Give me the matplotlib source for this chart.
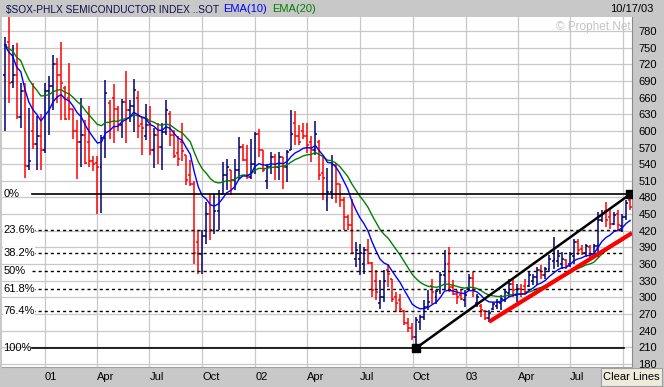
import numpy as np
import pandas as pd
import matplotlib
matplotlib.use('Agg')
import matplotlib.pyplot as plt
import matplotlib.dates as mdates
from matplotlib.collections import LineCollection
from matplotlib.patches import Rectangle

plt.rcParams['font.family'] = ['Liberation Sans', 'DejaVu Sans']
plt.rcParams['font.size'] = 8
plt.rcParams['lines.scale_dashes'] = False

# ---------------- data (weekly bars, week starting Monday) ----------------
first_week = '2000-10-23'
opens = [700, 760, 688, 700, 625, 671, 537, 600, 576, 590, 566, 671, 680, 720, 700, 678, 660, 640, 600, 580,
         592, 580, 545, 542, 535, 588, 650, 660, 640, 610, 652, 638, 645, 660, 612, 590, 610, 566, 592, 571,
         598, 630, 592, 560, 580, 557, 520, 505, 400, 379, 410, 450, 421, 455, 487, 520, 529, 511, 530, 571,
         548, 517, 540, 595, 565, 510, 535, 553, 535, 553, 535, 565, 615, 590, 600, 590, 580, 565, 580, 525,
         475, 490, 538, 505, 475, 445, 430, 370, 370, 360, 385, 362, 330, 290, 301, 350, 334, 300, 295, 275,
         253, 245, 229, 255, 265, 283, 320, 300, 311, 340, 361, 319, 307, 305, 295, 315, 335, 290, 285, 275,
         262, 279, 285, 290, 296, 308, 325, 305, 316, 320, 320, 330, 337, 350, 340, 352, 365, 365, 360, 368,
         360, 375, 400, 388, 380, 390, 378, 393, 440, 455, 445, 432, 450, 428, 445, 475]
highs = [770, 805, 755, 758, 686, 686, 642, 686, 626, 630, 686, 698, 737, 731, 760, 680, 722, 640, 620, 660,
         620, 645, 555, 554, 593, 691, 655, 685, 645, 657, 708, 655, 694, 672, 625, 649, 644, 606, 614, 614,
         656, 635, 602, 590, 614, 557, 548, 509, 421, 421, 472, 487, 487, 493, 544, 550, 529, 550, 589, 577,
         574, 586, 598, 604, 565, 541, 562, 559, 562, 553, 565, 638, 635, 611, 614, 614, 590, 617, 584, 554,
         533, 557, 542, 505, 481, 448, 478, 400, 397, 391, 406, 364, 349, 331, 349, 361, 334, 310, 307, 277,
         262, 253, 265, 268, 295, 313, 334, 313, 346, 385, 391, 331, 313, 313, 313, 343, 346, 307, 289, 277,
         277, 292, 298, 304, 313, 334, 334, 325, 325, 334, 346, 343, 355, 358, 355, 376, 409, 385, 382, 370,
         382, 406, 406, 394, 397, 394, 397, 454, 457, 472, 457, 454, 457, 451, 475, 486]
lows = [599, 651, 678, 621, 605, 515, 530, 568, 530, 530, 560, 593, 638, 651, 620, 620, 620, 585, 513, 535,
        540, 535, 528, 451, 452, 551, 585, 579, 600, 588, 579, 616, 598, 587, 557, 583, 557, 534, 541, 530,
        593, 572, 551, 536, 545, 503, 500, 361, 343, 343, 397, 403, 415, 421, 487, 493, 484, 493, 514, 545,
        514, 514, 523, 553, 526, 496, 523, 511, 511, 496, 508, 565, 575, 575, 586, 560, 544, 557, 512, 476,
        455, 478, 470, 463, 421, 421, 379, 355, 340, 343, 361, 301, 295, 280, 292, 319, 292, 274, 274, 250,
        238, 223, 209, 241, 259, 277, 289, 289, 307, 313, 310, 304, 289, 295, 283, 313, 301, 283, 265, 259,
        256, 277, 280, 277, 292, 301, 301, 292, 301, 304, 319, 322, 322, 334, 334, 346, 352, 355, 352, 352,
        355, 361, 376, 376, 373, 370, 373, 373, 436, 427, 424, 430, 421, 418, 440, 458]
closes = [755, 686, 700, 625, 671, 537, 545, 576, 590, 566, 671, 680, 720, 700, 686, 621, 640, 600, 580, 592,
          542, 545, 540, 535, 588, 669, 620, 640, 610, 652, 638, 645, 674, 609, 605, 610, 566, 592, 571, 598,
          637, 592, 554, 550, 563, 512, 505, 380, 379, 410, 450, 421, 455, 487, 520, 535, 511, 530, 571, 548,
          517, 540, 595, 565, 529, 535, 553, 535, 553, 535, 562, 595, 590, 580, 590, 575, 565, 595, 520, 515,
          490, 538, 505, 475, 445, 430, 380, 385, 380, 385, 362, 313, 310, 301, 330, 343, 298, 290, 280, 253,
          245, 229, 259, 265, 283, 292, 310, 311, 340, 361, 319, 307, 300, 298, 305, 335, 313, 300, 277, 262,
          272, 289, 292, 298, 310, 325, 313, 316, 307, 310, 340, 337, 350, 340, 352, 370, 370, 375, 370, 356,
          378, 400, 385, 380, 392, 378, 393, 440, 450, 440, 432, 448, 430, 445, 470, 462]

# Fibonacci retracement between the Oct-2002 low and the Oct-2003 high
fib_low = 209
fib_high = 487
fib_pcts = [0, 23.6, 38.2, 50, 61.8, 76.4, 100]
fib_labels = ['0%', '23.6%', '38.2%', '50%', '61.8%', '76.4%', '100%']

# trend lines (bar index, value)
black_line = [(102, 209), (155, 486)]
red_line_start = (120, 256)
red_line_end_value = 416

y_ticks = list(range(180, 781, 30))
x_tick_labels = ['01', 'Apr', 'Jul', 'Oct', '02', 'Apr', 'Jul', 'Oct', '03', 'Apr', 'Jul']
quarters = pd.date_range('2001-01-01', periods=12, freq='QS')

# ---------------- figure ----------------
W, H = 664, 387
fig = plt.figure(figsize=(W / 100, H / 100), dpi=100, facecolor='#c8c8c8')
ax = fig.add_axes([2 / W, 20 / H, 630 / W, 350 / H])
ax.set_facecolor('white')

dates = pd.date_range(first_week, periods=len(closes), freq='W-MON')
xd = mdates.date2num(dates)
o = np.array(opens, float)
h = np.array(highs, float)
l = np.array(lows, float)
c = np.array(closes, float)

x_left = mdates.date2num(pd.Timestamp('2000-10-18 12:00'))
x_right = mdates.date2num(pd.Timestamp('2003-10-16 03:00'))
ax.set_xlim(x_left, x_right)
ax.set_ylim(174.6, 805.2)

# grid
qn = mdates.date2num(quarters)
ax.set_yticks(y_ticks)
ax.set_xticks(qn[:len(x_tick_labels)])
ax.set_xticklabels(x_tick_labels, ha='left')
ax.set_xticks(qn[len(x_tick_labels):], minor=True)
ax.grid(True, which='both', color='#c8c8c8', lw=0.9, zorder=0)
ax.set_axisbelow(True)
ax.yaxis.tick_right()
ax.tick_params(axis='both', which='both', length=0, labelsize=8, colors='black')
ax.tick_params(axis='y', pad=4.6)
ax.tick_params(axis='x', pad=3.4)

for s in ['top', 'left']:
    ax.spines[s].set_visible(False)
ax.spines['right'].set_color('#8a8a8a')
ax.spines['bottom'].set_color('#a0a0a0')

# OHLC bars
up = c >= o
cols = np.where(up, '#000070', '#ff0000')
tw = 3.4  # days
segs = []
for i in range(len(xd)):
    segs.append([(xd[i], l[i]), (xd[i], h[i])])
    segs.append([(xd[i] - tw, o[i]), (xd[i], o[i])])
    segs.append([(xd[i], c[i]), (xd[i] + tw, c[i])])
seg_cols = np.repeat(cols, 3)
ax.add_collection(LineCollection(segs, colors=seg_cols, linewidths=1.1, zorder=3))

# EMAs
ema10 = pd.Series(c).ewm(span=10, adjust=False).mean()
ema20 = pd.Series(c).ewm(span=20, adjust=False).mean()
ax.plot(xd, ema20, color='#008000', lw=1.0, zorder=4)
ax.plot(xd, ema10, color='#0000ff', lw=1.0, zorder=4)

# Fibonacci lines
rng = fib_high - fib_low
for p, lab in zip(fib_pcts, fib_labels):
    lvl = fib_high - p / 100 * rng
    if p in (0, 100):
        xmax = 0.9905 if p == 0 else 0.987
        ax.axhline(lvl, xmin=30 / 630, xmax=xmax, color='black', lw=1.2, zorder=5)
    else:
        ax.axhline(lvl, xmin=30 / 630, xmax=0.985, color='black', lw=1.0,
                   dashes=(2.2, 2.2), zorder=5)
    ax.text(1.2 / 630, lvl, lab, transform=ax.get_yaxis_transform(), ha='left', va='center',
            fontsize=8, color='black', zorder=6,
            bbox=dict(facecolor='white', edgecolor='none', pad=0.3) if p not in (0, 50, 100) else None)

# trend lines
(b0, v0), (b1, v1) = black_line
ax.plot([xd[b0], xd[b1]], [v0, v1], color='black', lw=1.8, zorder=6, solid_capstyle='butt')
ax.plot([xd[b0], xd[b1]], [v0, v1], ls='none', marker='s', ms=6, color='black', zorder=7)
rb, rv = red_line_start
ax.plot([xd[rb], x_right], [rv, red_line_end_value], color='#ff0000', lw=3.0, zorder=6,
        solid_capstyle='butt')

# watermark
ax.text(629 / 630, 1 - 10 / 350, '\u00a9 Prophet.Net', transform=ax.transAxes, ha='right',
        va='center', fontsize=8.5, color='#c4c4c4', zorder=2)

# header
ty = 1 - 9.5 / H
fig.text(6 / W, ty, '$SOX-PHLX SEMICONDUCTOR INDEX ..SOT', color='#101050', fontsize=7.3, va='center')
fig.text(223 / W, ty, 'EMA(10)', color='#0000ff', fontsize=8, va='center')
fig.text(272 / W, ty, 'EMA(20)', color='#008000', fontsize=8, va='center')
fig.text(653 / W, ty, '10/17/03', color='black', fontsize=8, va='center', ha='right')

# Clear Lines button
fig.patches.append(Rectangle((601 / W, 1 / H), 61 / W, 18 / H, transform=fig.transFigure,
                             facecolor='#eeebdc', edgecolor='#a0a0a0', lw=0.8, zorder=10))
fig.text(631.5 / W, 1 - 377 / H, 'Clear Lines', fontsize=8, ha='center', va='center', zorder=11)

fig.savefig('out.png', dpi=100, facecolor=fig.get_facecolor())
